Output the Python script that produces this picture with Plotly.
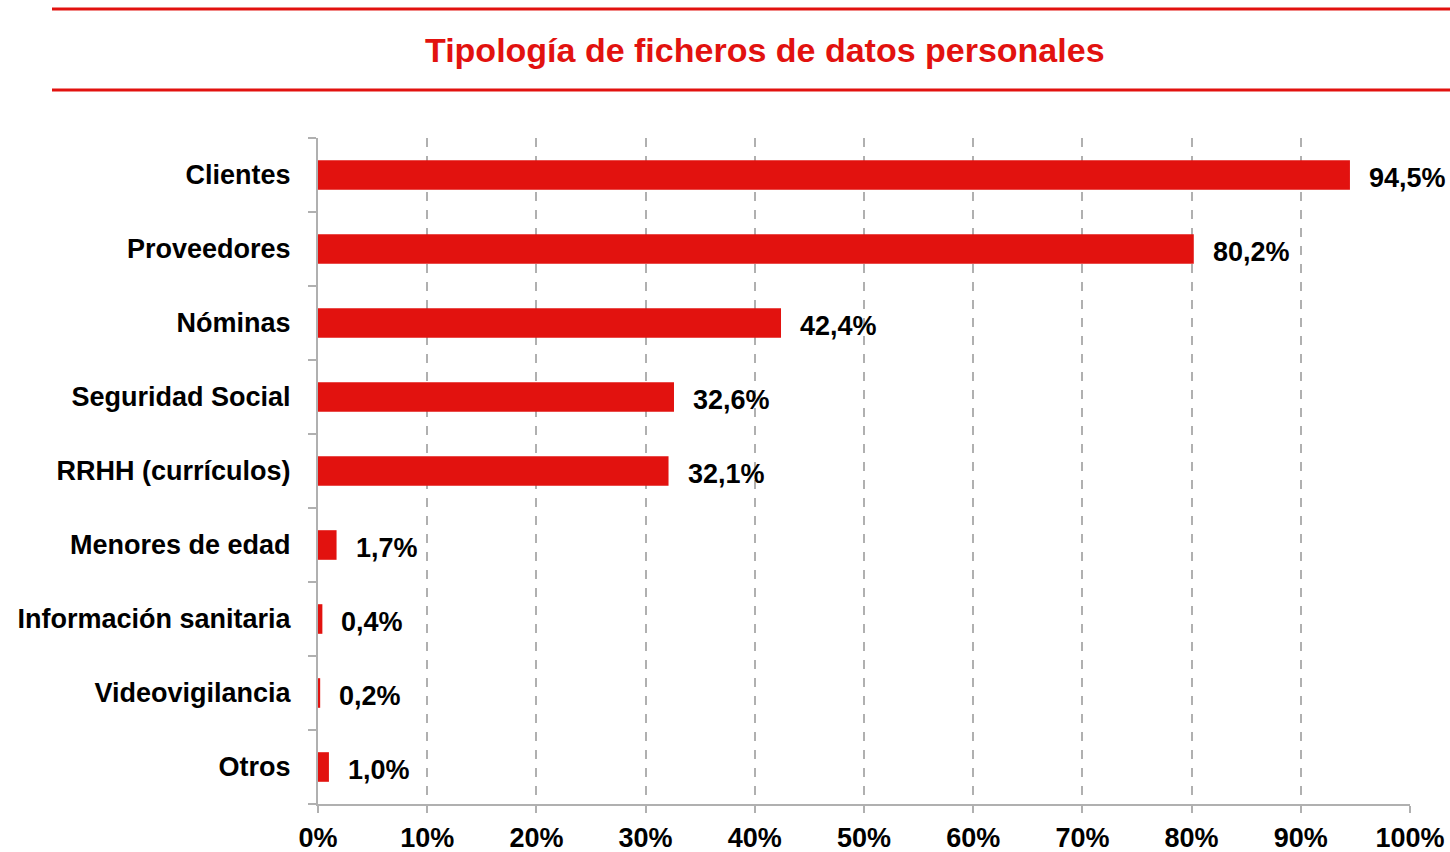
import plotly.graph_objects as go

categories = ["Clientes", "Proveedores", "Nóminas", "Seguridad Social", "RRHH (currículos)",
              "Menores de edad", "Información sanitaria", "Videovigilancia", "Otros"]
values = [94.5, 80.2, 42.4, 32.6, 32.1, 1.7, 0.4, 0.2, 1.0]
labels = ["94,5%", "80,2%", "42,4%", "32,6%", "32,1%", "1,7%", "0,4%", "0,2%", "1,0%"]
x_ticks = [0, 10, 20, 30, 40, 50, 60, 70, 80, 90, 100]
x_tick_labels = [f"{v}%" for v in x_ticks]

RED = "#E2120F"
FONT = "Liberation Sans, Arial, sans-serif"

fig = go.Figure(go.Bar(
    y=categories, x=values, orientation="h",
    marker=dict(color=RED, line=dict(width=0)),
    width=0.4,
))

for c, v, t in zip(categories, values, labels):
    fig.add_annotation(x=v, y=c, text=f"<b>{t}</b>", showarrow=False,
                       xanchor="left", xshift=17, yshift=-3,
                       font=dict(family=FONT, size=27, color="black"))

W, H = 1450, 852
L, R, T, B = 318, 40, 138, 48
pw = W - L - R
ph = H - T - B

def px_to_paper_x(px):
    return (px - L) / pw

def py_to_paper_y(py):
    return (H - B - py) / ph

for yy in (9, 90):
    fig.add_shape(type="line", xref="paper", yref="paper",
                  x0=px_to_paper_x(52), x1=px_to_paper_x(1450),
                  y0=py_to_paper_y(yy), y1=py_to_paper_y(yy),
                  line=dict(color=RED, width=3))

fig.add_annotation(xref="paper", yref="paper", x=px_to_paper_x(765), y=py_to_paper_y(50),
                   text="<b>Tipología de ficheros de datos personales</b>", showarrow=False,
                   xanchor="center", yanchor="middle",
                   font=dict(family=FONT, size=34, color=RED))

fig.update_layout(
    width=W, height=H,
    margin=dict(l=L, r=R, t=T, b=B, autoexpand=False),
    paper_bgcolor="white", plot_bgcolor="white",
    showlegend=False,
    font=dict(family=FONT, color="black"),
)
fig.update_xaxes(
    range=[0, 100], tickvals=x_ticks, ticktext=[f"<b>{t}</b>" for t in x_tick_labels],
    tickfont=dict(size=27, family=FONT, color="black"),
    showgrid=True, gridcolor="#B0B0B0", griddash="dash", gridwidth=1.5,
    showline=True, linecolor="#B0B0B0", linewidth=2,
    ticks="outside", ticklen=7, tickcolor="#B0B0B0", tickwidth=2,
    ticklabelstandoff=2, automargin=False,
    zeroline=False, fixedrange=True,
)
fig.update_yaxes(
    categoryorder="array", categoryarray=categories, autorange="reversed",
    tickvals=categories, ticktext=[f"<b>{c}</b>" for c in categories],
    tickfont=dict(size=27, family=FONT, color="black"),
    showline=True, linecolor="#B0B0B0", linewidth=2,
    ticks="outside", tickson="boundaries", ticklen=8, tickcolor="#B0B0B0", tickwidth=2,
    ticklabelstandoff=20, automargin=False,
    showgrid=False, zeroline=False, fixedrange=True,
)

fig.write_html("out.html", config={"displayModeBar": False},
               post_script="document.body.style.margin='0';document.body.style.overflow='hidden';")
